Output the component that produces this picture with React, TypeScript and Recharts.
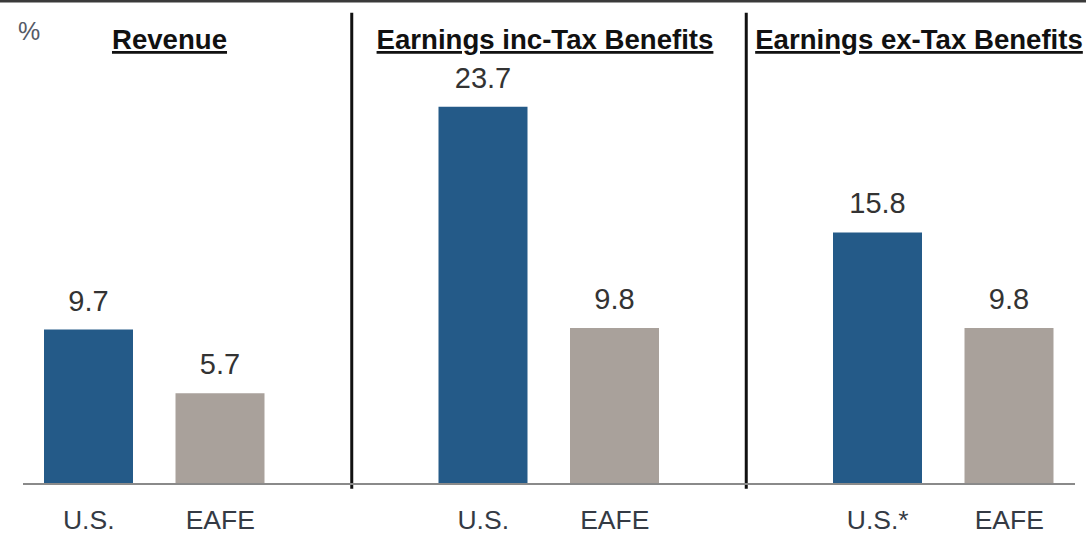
import React from 'react';
import { BarChart, Bar, XAxis, YAxis, Cell, LabelList, ReferenceLine } from 'recharts';

// Categories (keys are unique; spacer slots separate the three panels)
const categoryKeys = ['rev-us', 'rev-eafe', 'gap1', 'inc-us', 'inc-eafe', 'gap2', 'ex-us', 'ex-eafe'];
const categoryLabels = ['U.S.', 'EAFE', '', 'U.S.', 'EAFE', '', 'U.S.*', 'EAFE'];
const values: (number | null)[] = [9.7, 5.7, null, 23.7, 9.8, null, 15.8, 9.8];
const regions = ['US', 'EAFE', '', 'US', 'EAFE', '', 'US', 'EAFE'];
const panelTitles = ['Revenue', 'Earnings inc-Tax Benefits', 'Earnings ex-Tax Benefits'];
const unitLabel = '%';

const BLUE = '#245A88';
const GREY = '#A9A19B';
const FONT = '"Liberation Sans", Arial, Helvetica, sans-serif';

const data = categoryKeys.map((k, i) => ({ key: k, label: categoryLabels[i], value: values[i], region: regions[i] }));
const labelOf: Record<string, string> = Object.fromEntries(categoryKeys.map((k, i) => [k, categoryLabels[i]]));

const W = 1086;
const H = 535;

export default function App() {
  return (
    <div style={{ position: 'relative', width: W, height: H, background: '#fff', overflow: 'hidden' }}>
      <style>{`body{margin:0;}`}</style>
      <BarChart
        width={W}
        height={H}
        data={data}
        margin={{ top: 86, right: 11, bottom: 0, left: 23 }}
      >
        <YAxis hide domain={[0, 25]} />
        <XAxis
          dataKey="key"
          height={51}
          tickLine={false}
          tickSize={0}
          tickMargin={26}
          axisLine={{ stroke: '#8a8a8a', strokeWidth: 2 }}
          tickFormatter={(k: string) => labelOf[k] ?? ''}
          tick={{ fill: '#343a44', fontSize: 26.5, fontFamily: FONT }}
          interval={0}
        />
        <ReferenceLine
          segment={[{ x: 'gap1', y: -0.3 }, { x: 'gap1', y: 29.6 }]}
          stroke="#111"
          strokeWidth={3}
          ifOverflow="visible"
        />
        <ReferenceLine
          segment={[{ x: 'gap2', y: -0.3 }, { x: 'gap2', y: 29.6 }]}
          stroke="#111"
          strokeWidth={3}
          ifOverflow="visible"
        />
        <Bar dataKey="value" barSize={89} isAnimationActive={false}>
          {data.map((d) => (
            <Cell key={d.key} fill={d.region === 'US' ? BLUE : GREY} />
          ))}
          <LabelList
            dataKey="value"
            position="top"
            offset={19}
            formatter={(v: any) => (v == null ? '' : Number(v).toFixed(1))}
            style={{ fill: '#333', fontSize: 29, fontFamily: FONT }}
          />
        </Bar>
      </BarChart>
      <svg
        width={W}
        height={H}
        style={{ position: 'absolute', left: 0, top: 0, pointerEvents: 'none' }}
      >
        <rect x={0} y={0} width={W} height={2.5} fill="#3a3a3a" />
        <text x={18} y={40} fontSize={25} fill="#555a66" fontFamily={FONT}>{unitLabel}</text>
        {panelTitles.map((t, i) => (
          <text
            key={t}
            x={[169.5, 545, 919][i]}
            y={49}
            textAnchor="middle"
            fontSize={27.6}
            fontWeight="bold"
            fill="#111"
            fontFamily={FONT}
            textDecoration="underline"
          >
            {t}
          </text>
        ))}
      </svg>
    </div>
  );
}
